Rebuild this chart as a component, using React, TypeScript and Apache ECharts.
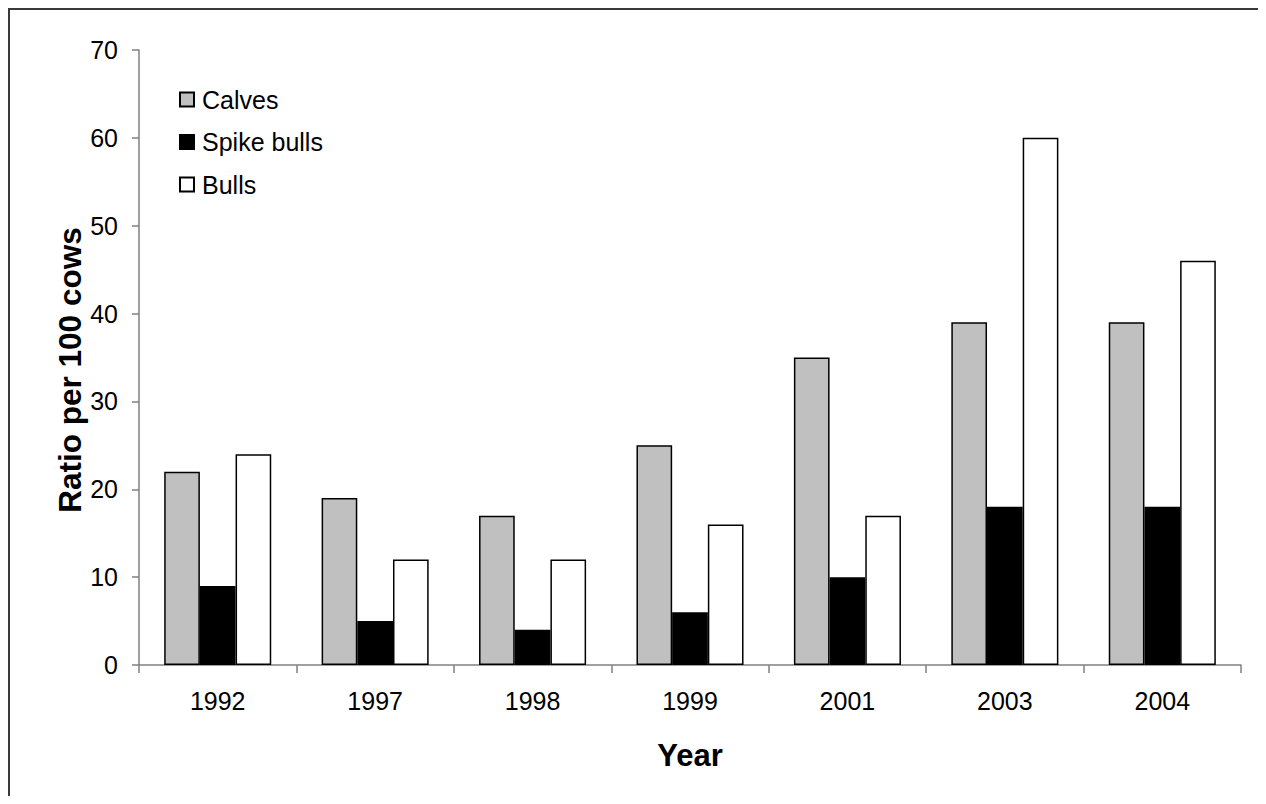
import React, { useEffect, useRef } from "react";
import * as echarts from "echarts";

const years = ["1992", "1997", "1998", "1999", "2001", "2003", "2004"];
const calves = [22, 19, 17, 25, 35, 39, 39];
const spikeBulls = [9, 5, 4, 6, 10, 18, 18];
const bulls = [24, 12, 12, 16, 17, 60, 46];

const FONT = "'Liberation Sans', Arial, sans-serif";

export default function App() {
  const ref = useRef<HTMLDivElement>(null);
  useEffect(() => {
    if (!ref.current) return;
    const chart = echarts.init(ref.current, undefined, { renderer: "svg" });
    const barStyle = (color: string) => ({
      color,
      borderColor: "#000",
      borderWidth: 1.5,
    });
    chart.setOption({
      animation: false,
      backgroundColor: "#fff",
      textStyle: { fontFamily: FONT },
      graphic: [
        {
          type: "line",
          shape: { x1: 0, y1: 1, x2: 1258, y2: 1 },
          style: { stroke: "#3a3a3a", lineWidth: 2 },
          silent: true,
        },
        {
          type: "line",
          shape: { x1: 1, y1: 0, x2: 1, y2: 788 },
          style: { stroke: "#3a3a3a", lineWidth: 2 },
          silent: true,
        },
        {
          type: "text",
          x: 62,
          y: 362,
          rotation: Math.PI / 2,
          style: {
            text: "Ratio per 100 cows",
            fontFamily: FONT,
            fontSize: 31.5,
            fontWeight: "bold",
            fill: "#000",
            align: "center",
            verticalAlign: "middle",
          },
          silent: true,
        },
      ],
      grid: { left: 131, right: 25, top: 42, bottom: 131 },
      legend: {
        orient: "vertical",
        left: 166,
        top: 74,
        itemWidth: 14,
        itemHeight: 14,
        itemGap: 17.5,
        icon: "rect",
        textStyle: { fontFamily: FONT, fontSize: 25, color: "#000", padding: [0, 0, 0, 3] },
        data: ["Calves", "Spike bulls", "Bulls"],
      },
      xAxis: {
        type: "category",
        data: years,
        name: "Year",
        nameLocation: "middle",
        nameGap: 75,
        nameTextStyle: { fontFamily: FONT, fontSize: 31, fontWeight: "bold", color: "#000", verticalAlign: "top" },
        axisLine: { lineStyle: { color: "#808080", width: 1.5 } },
        axisTick: { show: true, length: 8, lineStyle: { color: "#808080", width: 1.5 } },
        axisLabel: { fontFamily: FONT, fontSize: 25, color: "#000", margin: 23 },
      },
      yAxis: {
        type: "value",
        min: 0,
        max: 70,
        interval: 10,
        axisLine: { show: true, lineStyle: { color: "#808080", width: 1.5 } },
        axisTick: { show: true, length: 7, lineStyle: { color: "#808080", width: 1.5 } },
        splitLine: { show: false },
        axisLabel: { fontFamily: FONT, fontSize: 25, color: "#000", margin: 21 },
      },
      series: [
        { name: "Calves", type: "bar", data: calves, itemStyle: barStyle("#c0c0c0"), barGap: "0%", barCategoryGap: "32%" },
        { name: "Spike bulls", type: "bar", data: spikeBulls, itemStyle: barStyle("#000000"), barGap: "0%", barCategoryGap: "32%" },
        { name: "Bulls", type: "bar", data: bulls, itemStyle: barStyle("#ffffff"), barGap: "0%", barCategoryGap: "32%" },
      ],
    });
    return () => chart.dispose();
  }, []);
  return <div ref={ref} style={{ width: 1258, height: 788 }} />;
}
